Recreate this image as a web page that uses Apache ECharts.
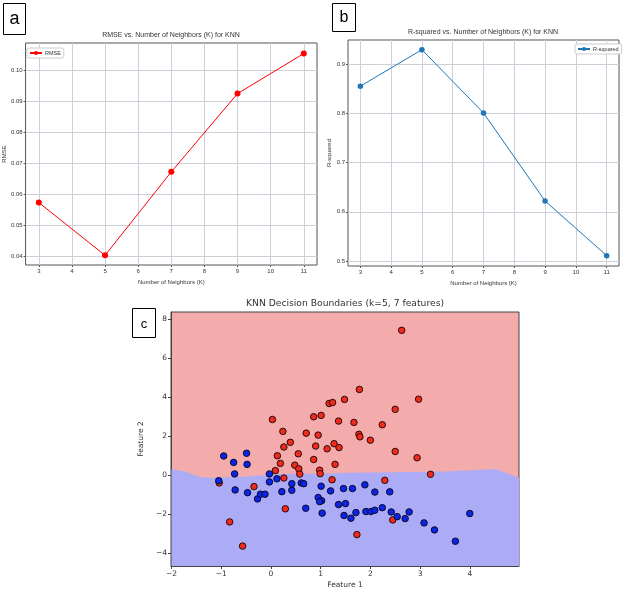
<!DOCTYPE html>
<html><head><meta charset="utf-8">
<script src="https://cdn.jsdelivr.net/npm/echarts@6/dist/echarts.min.js"></script>
<style>html,body{margin:0;padding:0;background:#fff}#main{width:640px;height:594px}</style>
</head><body><div id="main"></div>
<script>
// ---- data ----
const kValues = [3, 5, 7, 9, 11];
const rmseValues = [0.0573, 0.0403, 0.0672, 0.0924, 0.1053];
const r2Values = [0.855, 0.929, 0.8006, 0.622, 0.511];
const kTicks = [3, 4, 5, 6, 7, 8, 9, 10, 11];
const rmseTicks = [0.04, 0.05, 0.06, 0.07, 0.08, 0.09, 0.10];
const r2Ticks = [0.5, 0.6, 0.7, 0.8, 0.9];
const featXTicks = [-2, -1, 0, 1, 2, 3, 4];
const featYTicks = [-4, -2, 0, 2, 4, 6, 8];
const class1Points = [
  [2.63, 7.43], [1.78, 4.40], [2.97, 3.90], [1.48, 3.89], [1.17, 3.68], [1.24, 3.73],
  [2.50, 3.38], [1.01, 3.07], [0.86, 3.00], [0.03, 2.86], [1.36, 2.78], [1.67, 2.71],
  [2.24, 2.59], [0.24, 2.25], [0.71, 2.16], [0.95, 2.06], [1.77, 2.10], [1.79, 1.97],
  [2.00, 1.80], [0.39, 1.69], [0.26, 1.45], [0.90, 1.50], [1.13, 1.36], [1.27, 1.62],
  [1.37, 1.42], [2.50, 1.22], [0.13, 1.00], [0.55, 1.10], [0.86, 0.81], [2.94, 0.90],
  [0.19, 0.61], [0.48, 0.52], [1.29, 0.56], [0.56, 0.33], [0.09, 0.24], [0.98, 0.26],
  [0.99, 0.08], [0.58, 0.06], [3.21, 0.05], [0.26, -0.14], [1.23, -0.23], [2.29, -0.26],
  [-0.34, -0.58], [-1.04, -0.39], [0.29, -1.72], [2.45, -2.29], [1.73, -3.04],
  [-0.83, -2.39], [-0.57, -3.63]
];
const class0Points = [
  [-0.95, 0.99], [-0.49, 1.13], [-0.75, 0.66], [-0.48, 0.56], [-0.73, 0.07], [-1.05, -0.28],
  [-0.72, -0.75], [-0.47, -0.89], [-0.27, -1.21], [-0.21, -0.97], [-0.12, -0.97], [-0.03, 0.07],
  [-0.03, -0.34], [0.12, -0.18], [0.22, -0.84], [0.42, -0.43], [0.42, -0.77], [0.61, -0.39],
  [0.66, -0.43], [0.70, -1.69], [1.01, -0.56], [1.20, -0.80], [0.95, -1.14], [1.02, -1.30],
  [0.98, -1.35], [1.03, -1.94], [1.36, -1.50], [1.50, -1.45], [1.46, -0.68], [1.64, -0.68],
  [1.89, -0.49], [2.09, -0.86], [2.39, -0.85], [1.47, -2.06], [1.61, -2.20], [1.71, -1.91],
  [1.91, -1.86], [2.01, -1.86], [2.09, -1.79], [2.24, -1.66], [2.42, -1.88], [2.54, -2.12],
  [2.70, -2.22], [2.78, -1.88], [3.08, -2.44], [3.29, -2.80], [3.71, -3.38], [4.00, -1.96]
];
const boundary = [
  [-2.0, 0.31], [-1.73, 0.19], [-1.5, -0.02], [-1.39, -0.10], [-1.23, -0.12], [-0.9, -0.10],
  [-0.56, -0.07], [-0.03, 0.01], [0.24, 0.08], [1.0, 0.08], [1.6, 0.13], [2.5, 0.15],
  [3.5, 0.20], [4.48, 0.31], [4.55, 0.30], [4.99, -0.12]
];

// ---- chart ----
const NF = "'Liberation Sans', sans-serif";
const DF = "'DejaVu Sans', sans-serif";
const txt = '#333';
const gridLine = { show: true, lineStyle: { color: '#cfcfda', width: 1 } };
const minus = v => String(v).replace('-', '\u2212');

function smallAxis(min, max, ticks, fmt, extra) {
  return Object.assign({
    type: 'value', min: min, max: max,
    axisLine: { show: false },
    axisTick: { show: true, inside: false, length: 2, customValues: ticks, lineStyle: { color: '#555' } },
    axisLabel: { customValues: ticks, formatter: fmt, fontSize: 6, fontFamily: NF, color: txt, margin: 3 },
    splitLine: gridLine,
    nameLocation: 'middle',
    nameTextStyle: { fontSize: 6, fontFamily: NF, color: txt }
  }, extra);
}

const chart = echarts.init(document.getElementById('main'), null, { renderer: 'canvas' });
const option = {
  animation: false,
  backgroundColor: '#fff',
  title: [
    { text: 'RMSE vs. Number of Neighbors (K) for KNN', left: 171, top: 32, textAlign: 'center', padding: 0,
      textStyle: { fontSize: 7, fontWeight: 'normal', fontFamily: NF, color: txt } },
    { text: 'R-squared vs. Number of Neighbors (K) for KNN', left: 483, top: 29, textAlign: 'center', padding: 0,
      textStyle: { fontSize: 7, fontWeight: 'normal', fontFamily: NF, color: txt } },
    { text: 'KNN Decision Boundaries (k=5, 7 features)', left: 345, top: 299, textAlign: 'center', padding: 0,
      textStyle: { fontSize: 9.2, fontWeight: 'normal', fontFamily: DF, color: txt } }
  ],
  legend: [
    { data: ['RMSE'], left: 27, top: 48, itemWidth: 12, itemHeight: 5, itemGap: 0, padding: [2, 3, 2, 2],
      borderColor: '#ccc', borderWidth: 1, borderRadius: 2, backgroundColor: '#fff',
      textStyle: { fontSize: 5.5, fontFamily: NF, color: txt, padding: [0, 0, 0, -2] } },
    { data: ['R-squared'], left: 575, top: 44, itemWidth: 12, itemHeight: 5, itemGap: 0, padding: [2, 3, 2, 2],
      borderColor: '#ccc', borderWidth: 1, borderRadius: 2, backgroundColor: '#fff',
      textStyle: { fontSize: 5.5, fontFamily: NF, color: txt, padding: [0, 0, 0, -2] } }
  ],
  grid: [
    { left: 24, top: 43, width: 293, height: 222, show: true, borderColor: '#555', borderWidth: 1, backgroundColor: '#fff' },
    { left: 348, top: 40, width: 271, height: 226, show: true, borderColor: '#555', borderWidth: 1, backgroundColor: '#fff' },
    { left: 171, top: 312, width: 348, height: 254, show: true, borderColor: '#444', borderWidth: 1, backgroundColor: '#F3ABAB' }
  ],
  xAxis: [
    smallAxis(2.6, 11.4, kTicks, v => v, { gridIndex: 0, name: 'Number of Neighbors (K)', nameGap: 14 }),
    smallAxis(2.6, 11.4, kTicks, v => v, { gridIndex: 1, name: 'Number of Neighbors (K)', nameGap: 14 }),
    { type: 'value', gridIndex: 2, min: -2.01, max: 4.99, interval: 1,
      axisLine: { show: true, onZero: false, lineStyle: { color: '#444', width: 1 } },
      axisTick: { show: true, inside: false, length: 3, customValues: featXTicks, lineStyle: { color: '#444' } },
      axisLabel: { customValues: featXTicks, formatter: minus, fontSize: 7.5, fontFamily: DF, color: txt, margin: 4 },
      splitLine: { show: false },
      name: 'Feature 1', nameLocation: 'middle', nameGap: 15,
      nameTextStyle: { fontSize: 7.5, fontFamily: DF, color: txt } }
  ],
  yAxis: [
    smallAxis(0.0372, 0.1087, rmseTicks, v => v.toFixed(2), { gridIndex: 0, name: 'RMSE', nameGap: 16 }),
    smallAxis(0.49, 0.9487, r2Ticks, v => v.toFixed(1), { gridIndex: 1, name: 'R-squared', nameGap: 13 }),
    { type: 'value', gridIndex: 2, min: -4.65, max: 8.37,
      axisLine: { show: true, onZero: false, lineStyle: { color: '#444', width: 1 } },
      axisTick: { show: true, inside: false, length: 3, customValues: featYTicks, lineStyle: { color: '#444' } },
      axisLabel: { customValues: featYTicks, formatter: minus, fontSize: 7.5, fontFamily: DF, color: txt, margin: 4 },
      splitLine: { show: false },
      name: 'Feature 2', nameLocation: 'middle', nameGap: 21,
      nameTextStyle: { fontSize: 7.5, fontFamily: DF, color: txt } }
  ],
  series: [
    { name: 'RMSE', type: 'line', xAxisIndex: 0, yAxisIndex: 0,
      data: kValues.map((k, i) => [k, rmseValues[i]]),
      color: '#FF0000', symbol: 'circle', symbolSize: 6, lineStyle: { width: 1 }, emphasis: { disabled: true } },
    { name: 'R-squared', type: 'line', xAxisIndex: 1, yAxisIndex: 1,
      data: kValues.map((k, i) => [k, r2Values[i]]),
      color: '#1f77b4', symbol: 'circle', symbolSize: 5.5, lineStyle: { width: 1 }, emphasis: { disabled: true } },
    { name: 'boundary', type: 'line', xAxisIndex: 2, yAxisIndex: 2, data: boundary,
      showSymbol: false, symbol: 'none', lineStyle: { width: 0 },
      areaStyle: { color: '#ACACF6', opacity: 1, origin: 'start' }, silent: true, z: 1 },
    { name: 'class1', type: 'scatter', xAxisIndex: 2, yAxisIndex: 2, data: class1Points,
      symbolSize: 6.5, itemStyle: { color: '#F02A1C', borderColor: '#2a0a0a', borderWidth: 1, opacity: 1 }, z: 3 },
    { name: 'class0', type: 'scatter', xAxisIndex: 2, yAxisIndex: 2, data: class0Points,
      symbolSize: 6.5, itemStyle: { color: '#0C24E6', borderColor: '#0a0a2a', borderWidth: 1, opacity: 1 }, z: 4 }
  ],
  graphic: [
    { type: 'rect', shape: { x: 3.5, y: 3.5, width: 22, height: 31 }, style: { fill: '#fff', stroke: '#000', lineWidth: 1 } },
    { type: 'text', x: 14.5, y: 19, style: { text: 'a', fontSize: 18, fontFamily: "'Liberation Sans', sans-serif", fill: '#000', textAlign: 'center', textVerticalAlign: 'middle' } },
    { type: 'rect', shape: { x: 332.5, y: 3.5, width: 23, height: 28 }, style: { fill: '#fff', stroke: '#000', lineWidth: 1 } },
    { type: 'text', x: 344, y: 17.5, style: { text: 'b', fontSize: 16, fontFamily: "'Liberation Sans', sans-serif", fill: '#000', textAlign: 'center', textVerticalAlign: 'middle' } },
    { type: 'rect', shape: { x: 132.5, y: 308.5, width: 23, height: 29 }, style: { fill: '#fff', stroke: '#000', lineWidth: 1 } },
    { type: 'text', x: 144, y: 324, style: { text: 'c', fontSize: 13, fontFamily: "'Liberation Sans', sans-serif", fill: '#000', textAlign: 'center', textVerticalAlign: 'middle' } }
  ]
};
chart.setOption(option);
</script></body></html>
